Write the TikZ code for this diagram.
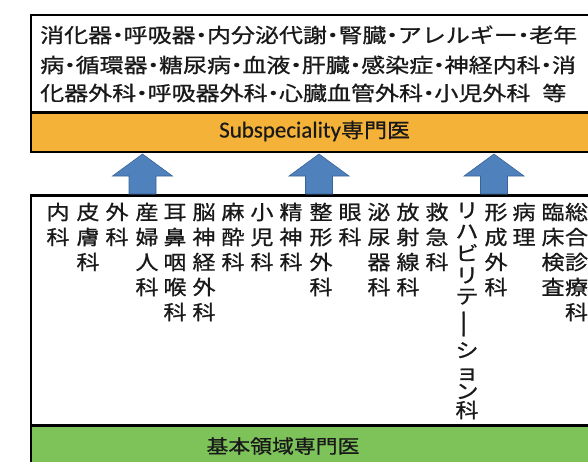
\documentclass[tikz,border=0pt]{standalone}
\usepackage{fontspec}
\usepackage{graphicx}
\setmainfont{Noto Sans CJK JP}
\newfontfamily\jp[FakeStretch=1.15,FakeBold=0.8]{Noto Sans CJK JP}
\newfontfamily\jpw[FakeStretch=1.2,FakeBold=0.8]{Noto Sans CJK JP}
\newfontfamily\lat[FakeBold=0.4]{Carlito}
\definecolor{bandorange}{RGB}{244,178,56}
\definecolor{bandgreen}{RGB}{125,195,90}
\definecolor{arrowblue}{RGB}{79,129,189}
\definecolor{arrowedge}{RGB}{58,100,152}
\definecolor{inkc}{RGB}{25,25,25}
\newcommand\jdot{\makebox[11.4pt]{・}}
\newcommand\vcolumn[3]{%
  \foreach \ch [count=\k from 0] in {#3} {\node[vch] (#1-\k) at (#2,{212+25*\k}) {\ch};}}
\newcommand\blockarrowat[1]{%
  \draw[blockarrow] (#1) -- ++(30,22) -- ++(-16.5,0) -- ++(0,18) -- ++(-27,0) -- ++(0,-18) -- ++(-16.5,0) -- cycle;}
\begin{document}
\begin{tikzpicture}[x=1pt,y=-1pt,
  frame/.style={draw=black, line width=2.5pt, rectangle, inner sep=0pt, anchor=north west},
  vch/.style={font=\jp\fontsize{20}{20}\selectfont, text=inkc, inner sep=0pt, text height=17.6pt, text depth=2.4pt},
  topline/.style={font=\jpw\fontsize{20}{20}\selectfont, text=inkc, inner sep=0pt, anchor=west, text height=17.6pt, text depth=2.4pt},
  blockarrow/.style={fill=arrowblue, draw=arrowedge, line width=0.6pt, line join=miter}]
\useasboundingbox (0,0) rectangle (588,461);
\clip (0,0) rectangle (588,461);
\fill[white] (0,0) rectangle (588,461);
% upper box
\node[frame, fill=white, minimum width=590pt, minimum height=137pt] (topbox) at (29.5,13.5) {};
\node[frame, fill=bandorange, minimum width=590pt, minimum height=39.5pt] (specband) at (29.5,111) {};
% lower box
\node[frame, fill=white, minimum width=590pt, minimum height=290pt] (basebox) at (29.5,194) {};
\node[frame, fill=bandgreen, minimum width=590pt, minimum height=60pt] (baseband) at (29.5,424) {};
% top texts
\node[topline] (l1) at (40,35) {消化器\jdot 呼吸器\jdot 内分泌代謝\jdot 腎臓\jdot アレルギー\jdot 老年};
\node[topline] (l2) at (40,65) {病\jdot 循環器\jdot 糖尿病\jdot 血液\jdot 肝臓\jdot 感染症\jdot 神経内科\jdot 消};
\node[topline] (l3) at (40,93) {化器外科\jdot 呼吸器外科\jdot 心臓血管外科\jdot 小児外科\hspace{0.6em}等};
\node[inner sep=0pt, anchor=west, text=inkc] (spectext) at (219,131) {{\lat\fontsize{23}{23}\selectfont Subspeciality}{\jp\fontsize{20}{20}\selectfont 専門医}};
\node[inner sep=0pt, text=inkc, text height=16.7pt, text depth=2.3pt, font=\jp\fontsize{19}{19}\selectfont] (basetext) at (283,446) {基本領域専門医};
% arrows
\coordinate (tip1) at (142.5,154);
\coordinate (tip2) at (319,154);
\coordinate (tip3) at (494,154);
\blockarrowat{tip1}
\blockarrowat{tip2}
\blockarrowat{tip3}
% columns
\vcolumn{c1}{58}{内,科}
\vcolumn{c2}{88}{皮,膚,科}
\vcolumn{c3}{117}{外,科}
\vcolumn{c4}{147}{産,婦,人,科}
\vcolumn{c5}{175}{耳,鼻,咽,喉,科}
\vcolumn{c6}{204}{脳,神,経,外,科}
\vcolumn{c7}{233}{麻,酔,科}
\vcolumn{c8}{262}{小,児,科}
\vcolumn{c9}{291}{精,神,科}
\vcolumn{c10}{321}{整,形,外,科}
\vcolumn{c11}{350}{眼,科}
\vcolumn{c12}{379}{泌,尿,器,科}
\vcolumn{c13}{408}{放,射,線,科}
\vcolumn{c14}{437}{救,急,科}
\node[vch] (c15-0) at (467,210) {リ};
\node[vch] (c15-1) at (467,231) {ハ};
\node[vch] (c15-2) at (467,253) {ビ};
\node[vch] (c15-3) at (467,275) {リ};
\node[vch] (c15-4) at (467,296) {テ};
\node[inner sep=0pt, text=inkc] (c15-5) at (467,324) {\rotatebox{90}{\scalebox{1.35}[1]{\jp\fontsize{20}{20}\selectfont ー}}};
\node[vch] (c15-6) at (467,350) {シ};
\node[vch] (c15-7) at (467,372) {ョ};
\node[vch] (c15-8) at (467,391) {ン};
\node[vch] (c15-9) at (467,410) {科};
\vcolumn{c16}{496}{形,成,外,科}
\vcolumn{c17}{524}{病,理}
\vcolumn{c18}{553}{臨,床,検,査}
\vcolumn{c19}{576.5}{総,合,診,療,科}
\end{tikzpicture}
\end{document}
